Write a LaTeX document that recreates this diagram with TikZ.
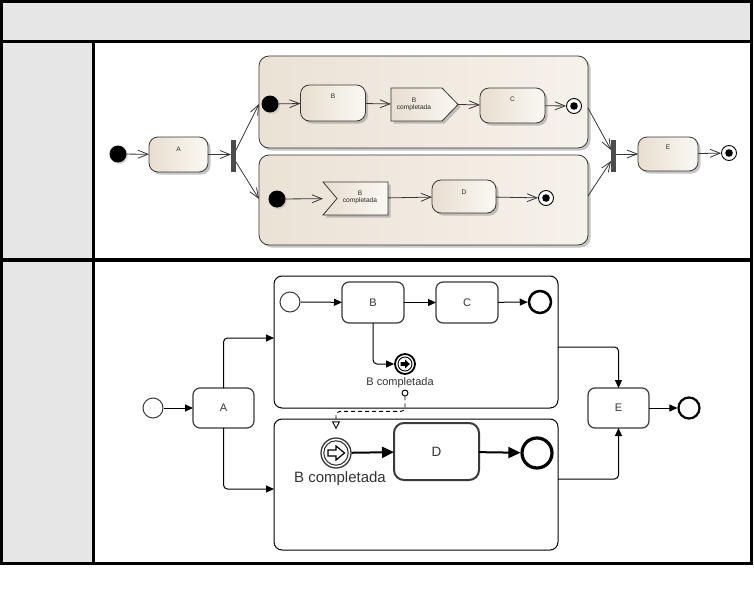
\documentclass[tikz,border=0pt]{standalone}
\usepackage{fontspec}
\setmainfont{Liberation Sans}
\usetikzlibrary{arrows.meta,shadows,calc}
\definecolor{hdr}{HTML}{E6E6E6}
\definecolor{umlln}{HTML}{383838}
\definecolor{beigeA}{HTML}{E8DED0}
\definecolor{beigeB}{HTML}{FBF8F3}
\definecolor{regA}{HTML}{EBE2D6}
\definecolor{regB}{HTML}{F6F1EA}
\definecolor{bpmnln}{HTML}{3A3A3A}
\begin{document}
\begin{tikzpicture}[x=1pt,y=-1pt,
  umlshadow/.style={drop shadow={shadow xshift=2.5pt,shadow yshift=-2.5pt,fill=black!45,opacity=0.5}},
  umlarrow/.style={draw=umlln,line width=0.8pt,-{Straight Barb[length=10pt,width=8pt,line width=0.8pt]}},
  umlstate/.style={draw=umlln,line width=0.8pt,rounded corners=9pt,left color=beigeA,right color=beigeB,umlshadow,inner sep=0pt,outer sep=0pt},
  umlregion/.style={draw=umlln,line width=0.8pt,rounded corners=10pt,left color=regA,right color=regB,umlshadow,inner sep=0pt,outer sep=0pt},
  umlinit/.style={circle,fill=black,inner sep=0pt,minimum size=17pt,drop shadow={shadow xshift=1.5pt,shadow yshift=-1.5pt,fill=black!30,opacity=0.5}},
  umlfinal/.style={circle,draw=black,line width=0.9pt,fill=white,inner sep=0pt,minimum size=15pt,
     path picture={\fill[black] (path picture bounding box.center) circle (3.8pt);}},
  umlbar/.style={fill=umlln!90,inner sep=0pt,minimum width=4.5pt,minimum height=32pt},
  umltext/.style={font=\fontsize{6.6}{7.6}\selectfont,text=black!85,align=center,inner sep=0pt},
  umlsig/.style={draw=umlln,line width=0.8pt,left color=beigeA,right color=beigeB,umlshadow},
  anchorbox/.style={inner sep=0pt,outer sep=0pt},
  flow/.style={draw=black,line width=1pt,rounded corners=4pt,-{Triangle[length=8pt,width=7pt]}},
  flowthick/.style={draw=black,line width=2pt,-{Triangle[length=12pt,width=11pt]}},
  assocflow/.style={draw=black,line width=0.9pt,dash pattern=on 4pt off 3pt,rounded corners=4pt,-{Triangle[open,length=8pt,width=8pt,line width=0.9pt]}},
  bpmntask/.style={draw=bpmnln,line width=1.2pt,rounded corners=7pt,fill=white,inner sep=0pt,outer sep=0pt},
  bpmnregion/.style={draw=black,line width=1pt,rounded corners=8pt,fill=white,inner sep=0pt,outer sep=0pt},
  startev/.style={circle,draw=bpmnln,line width=1pt,fill=white,inner sep=0pt,minimum size=20pt},
  endev/.style={circle,draw=black,fill=white,inner sep=0pt},
  bpmntext/.style={font=\fontsize{11}{13}\selectfont,text=black!80,inner sep=0pt}
]
\useasboundingbox (0,0) rectangle (754,594);
\fill[white] (0,0) rectangle (754,594);
% ---------- table ----------
\fill[hdr] (0,0) rectangle (753,43);
\fill[hdr] (0,43) rectangle (95,565);
\draw[line width=3pt] (1.5,1.5) rectangle (751.5,563.5);
\draw[line width=3pt] (0,41.5) -- (753,41.5);
\draw[line width=4pt] (0,260) -- (753,260);
\draw[line width=3pt] (93.5,41.5) -- (93.5,565);

% ---------- UML activity ----------
\node[umlregion,minimum width=329pt,minimum height=92pt] (R1) at (423.5,102) {};
\node[umlregion,minimum width=329pt,minimum height=90pt] (R2) at (423.5,200) {};

\node[umlinit] (I0) at (118,154) {};
\node[umlstate,minimum width=59pt,minimum height=35pt] (A) at (178.5,154.5) {};
\node[umltext] at (178.5,149.5) {A};
\node[umlbar] (fork) at (233.5,156) {};

\node[umlinit] (I1) at (270,104) {};
\node[umlstate,minimum width=65pt,minimum height=36pt] (B) at (333,103) {};
\node[umltext] at (333,96) {B};
\draw[umlsig] (391,88) -- (442,88) -- (458,104.5) -- (442,121) -- (391,121) -- cycle;
\node[anchorbox,minimum width=67pt,minimum height=33pt] (SS) at (424.5,104.5) {};
\node[umltext] at (414,104.5) {B\\completada};
\node[umlstate,minimum width=65pt,minimum height=35pt] (C) at (512.5,105.5) {};
\node[umltext] at (512.5,99) {C};
\node[umlfinal] (F1) at (574,106) {};

\node[umlinit] (I2) at (277,199) {};
\draw[umlsig] (323,182) -- (388,182) -- (388,215) -- (323,215) -- (337,198.5) -- cycle;
\node[anchorbox,minimum width=65pt,minimum height=33pt] (AE) at (355.5,198.5) {};
\node[umltext] at (360,197.5) {B\\completada};
\node[umlstate,minimum width=64pt,minimum height=33pt] (D) at (464,196.5) {};
\node[umltext] at (464,192) {D};
\node[umlfinal] (F2) at (546,198) {};

\node[umlbar] (join) at (613.5,156) {};
\node[umlstate,minimum width=60pt,minimum height=34pt] (E) at (668,154) {};
\node[umltext] at (668,147) {E};
\node[umlfinal] (F3) at (729,153) {};

\draw[umlarrow] (I0) -- (A);
\draw[umlarrow] (A.east) -- (A.east -| fork.west);
\draw[umlarrow] ($(fork.east)+(0,-6)$) -- (R1.west |- I1);
\draw[umlarrow] ($(fork.east)+(0,6)$) -- (R2.west |- I2);
\draw[umlarrow] (I1) -- (B);
\draw[umlarrow] (B) -- (SS);
\draw[umlarrow] (SS.east) -- (C);
\draw[umlarrow] (C) -- (F1);
\draw[umlarrow] (I2) -- (AE);
\draw[umlarrow] (AE) -- (D);
\draw[umlarrow] (D) -- (F2);
\draw[umlarrow] ($(R1.east)+(0,6)$) -- ($(join.west)+(0,-6)$);
\draw[umlarrow] ($(R2.east)+(0,-4)$) -- ($(join.west)+(0,5)$);
\draw[umlarrow] (join.east |- E) -- (E);
\draw[umlarrow] (E) -- (F3);

% ---------- BPMN ----------
\node[bpmnregion,minimum width=284pt,minimum height=132pt] (R3) at (416,342) {};
\node[bpmnregion,minimum width=284pt,minimum height=131pt] (R4) at (416,484.5) {};

\node[startev] (S0) at (153,408) {};
\node[bpmntask,minimum width=61pt,minimum height=40pt] (A2) at (223.5,408) {};
\node[bpmntext] at (A2) {A};

\node[startev] (S1) at (290,302) {};
\node[bpmntask,minimum width=62pt,minimum height=41pt] (B2) at (373,302.5) {};
\node[bpmntext] at (B2) {B};
\node[bpmntask,minimum width=62pt,minimum height=41pt] (C2) at (467,302.5) {};
\node[bpmntext] at (C2) {C};
\node[endev,line width=2.5pt,minimum size=22pt] (EE1) at (540,302) {};

\node[circle,draw=black,line width=1.8pt,fill=white,inner sep=0pt,minimum size=20pt] (T) at (405,364) {};
\draw[black,line width=0.9pt] (T.center) circle (7pt);
\fill[black,shift={(T.center)}] (-4.5,-2) -- (0,-2) -- (0,-4.5) -- (4.8,0) -- (0,4.5) -- (0,2) -- (-4.5,2) -- cycle;
\node[bpmntext] at (400,383) {B completada};
\node[circle,draw=black,line width=0.9pt,fill=white,inner sep=0pt,minimum size=6pt] (ac) at (405,393) {};

\node[circle,draw=bpmnln,line width=1.3pt,fill=white,inner sep=0pt,minimum size=30pt] (K) at (336,453) {};
\draw[bpmnln,line width=1.1pt] (K.center) circle (12.2pt);
\draw[black,line width=1.2pt,fill=white,shift={(K.center)}] (-8,-3) -- (0,-3) -- (0,-7) -- (8.5,0) -- (0,7) -- (0,3) -- (-8,3) -- cycle;
\node[bpmntext,font=\fontsize{15}{17}\selectfont] at (340,479) {B completada};
\node[bpmntask,line width=2pt,rounded corners=10pt,minimum width=85pt,minimum height=57pt] (D2) at (436.5,451.5) {};
\node[bpmntext,font=\fontsize{13.5}{15}\selectfont] at (D2) {D};
\node[endev,line width=3.2pt,minimum size=30pt] (EE2) at (537,453) {};

\node[bpmntask,minimum width=61pt,minimum height=40pt] (E2) at (618.5,408) {};
\node[bpmntext] at (E2) {E};
\node[endev,line width=2.2pt,minimum size=21pt] (EE3) at (689,408) {};

\draw[flow] (S0) -- (A2);
\draw[flow] (A2.north) |- (R3.west |- 0,338);
\draw[flow] (A2.south) |- (R4.west |- 0,489);
\draw[flow] (S1) -- (B2);
\draw[flow] (B2) -- (C2);
\draw[flow] (C2) -- (EE1);
\draw[flow] (B2.south) |- (T.west);
\draw[assocflow] (ac.south) |- ($(K.north)+(0,-26)$) -- ($(K.north)+(0,-8)$);
\draw[flowthick] (K) -- (D2);
\draw[flowthick] (D2) -- (EE2);
\draw[flow] (R3.east |- 0,347) -| (E2.north);
\draw[flow] (R4.east |- 0,479) -| (E2.south);
\draw[flow] (E2) -- (EE3);
\end{tikzpicture}
\end{document}
